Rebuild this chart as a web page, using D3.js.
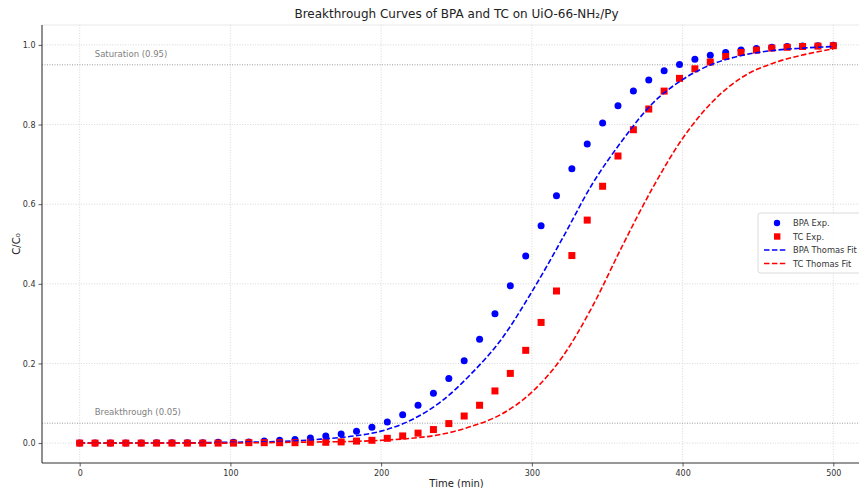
<!DOCTYPE html>
<html>
<head>
<meta charset="utf-8">
<script src="https://cdn.jsdelivr.net/npm/d3@7"></script>
<style>
  body { margin: 0; background: #fff; }
  svg { font-family: "DejaVu Sans", sans-serif; display: block; }
</style>
</head>
<body>
<div id="chart"></div>
<script>
// sampling times (min) of the experimental points
const timePoints = [0, 10.20, 20.41, 30.61, 40.82, 51.02, 61.22, 71.43, 81.63, 91.84,
  102.04, 112.24, 122.45, 132.65, 142.86, 153.06, 163.27, 173.47, 183.67, 193.88,
  204.08, 214.29, 224.49, 234.69, 244.90, 255.10, 265.31, 275.51, 285.71, 295.92,
  306.12, 316.33, 326.53, 336.73, 346.94, 357.14, 367.35, 377.55, 387.76, 397.96,
  408.16, 418.37, 428.57, 438.78, 448.98, 459.18, 469.39, 479.59, 489.80, 500];

const bpaExp = [0, 0, 0, 0, 0, 0.001, 0.001, 0.001, 0.001, 0.002,
  0.002, 0.003, 0.005, 0.007, 0.009, 0.013, 0.018, 0.023, 0.030, 0.040,
  0.053, 0.071, 0.095, 0.125, 0.162, 0.207, 0.261, 0.325, 0.395, 0.470,
  0.546, 0.621, 0.689, 0.751, 0.804, 0.847, 0.884, 0.912, 0.935, 0.951,
  0.964, 0.974, 0.981, 0.987, 0.991, 0.994, 0.996, 0.997, 0.998, 0.999];

const tcExp = [0, 0, 0, 0, 0, 0, 0, 0, 0, 0,
  0, 0.001, 0.001, 0.001, 0.001, 0.002, 0.002, 0.003, 0.005, 0.007,
  0.012, 0.018, 0.025, 0.034, 0.049, 0.068, 0.095, 0.131, 0.175, 0.233,
  0.303, 0.382, 0.471, 0.560, 0.645, 0.721, 0.787, 0.839, 0.884, 0.916,
  0.940, 0.957, 0.971, 0.981, 0.987, 0.992, 0.994, 0.996, 0.997, 0.998];

// Thomas model fits
const fitTimes = [0, 50, 100, 120, 140, 160, 180, 200, 220, 240, 260, 280, 300,
  320, 340, 360, 380, 400, 420, 440, 460, 480, 500];
const bpaFit = [0, 0, 0.002, 0.003, 0.005, 0.010, 0.017, 0.030, 0.058, 0.105, 0.175, 0.262, 0.380,
  0.512, 0.650, 0.760, 0.853, 0.913, 0.952, 0.974, 0.986, 0.992, 0.996];
const tcFit = [0, 0, 0, 0.001, 0.002, 0.003, 0.004, 0.007, 0.012, 0.022, 0.042, 0.073, 0.128,
  0.215, 0.342, 0.495, 0.640, 0.765, 0.858, 0.920, 0.954, 0.975, 0.990];

const xTicks = [0, 100, 200, 300, 400, 500];
const yTicks = [0, 0.2, 0.4, 0.6, 0.8, 1.0];
const refLines = [
  { value: 0.95, label: "Saturation (0.95)" },
  { value: 0.05, label: "Breakthrough (0.05)" }
];
const legendItems = [
  { label: "BPA Exp.", type: "circle", color: "blue" },
  { label: "TC Exp.", type: "square", color: "red" },
  { label: "BPA Thomas Fit", type: "line", color: "blue" },
  { label: "TC Thomas Fit", type: "line", color: "red" }
];

const W = 859, H = 488;
const margin = { top: 25, left: 42 };
const plotW = 829, plotH = 438;

const svg = d3.select("#chart").append("svg")
  .attr("width", W)
  .attr("height", H);

const g = svg.append("g")
  .attr("transform", "translate(" + margin.left + "," + margin.top + ")");

const x = d3.scaleLinear().domain([-25, 525]).range([0, plotW]);
const y = d3.scaleLinear().domain([-0.05, 1.05]).range([plotH, 0]);

// grid
g.append("g").selectAll("line").data(xTicks).join("line")
  .attr("x1", d => x(d)).attr("x2", d => x(d))
  .attr("y1", 0).attr("y2", plotH)
  .attr("stroke", "#cfcfcf").attr("stroke-width", 0.8)
  .attr("stroke-dasharray", "1,1.6");
g.append("g").selectAll("line").data(yTicks).join("line")
  .attr("x1", 0).attr("x2", plotW)
  .attr("y1", d => y(d)).attr("y2", d => y(d))
  .attr("stroke", "#cfcfcf").attr("stroke-width", 0.8)
  .attr("stroke-dasharray", "1,1.6");

// top edge
g.append("line")
  .attr("x1", 0).attr("x2", plotW).attr("y1", 0).attr("y2", 0)
  .attr("stroke", "#e2e2e2").attr("stroke-width", 0.8);

// saturation / breakthrough lines
g.append("g").selectAll("line").data(refLines).join("line")
  .attr("x1", 0).attr("x2", plotW)
  .attr("y1", d => y(d.value)).attr("y2", d => y(d.value))
  .attr("stroke", "#999").attr("stroke-width", 1)
  .attr("stroke-dasharray", "1,1.5");
g.append("g").selectAll("text").data(refLines).join("text")
  .attr("x", x(10))
  .attr("y", d => y(d.value + 0.02))
  .attr("font-size", 8.5)
  .attr("fill", "#808080")
  .text(d => d.label);

// experimental points
g.append("g").selectAll("circle").data(timePoints).join("circle")
  .attr("cx", d => x(d))
  .attr("cy", (d, i) => y(bpaExp[i]))
  .attr("r", 3.5)
  .attr("fill", "blue");

const sq = 7;
g.append("g").selectAll("rect").data(timePoints).join("rect")
  .attr("x", d => x(d) - sq / 2)
  .attr("y", (d, i) => y(tcExp[i]) - sq / 2)
  .attr("width", sq).attr("height", sq)
  .attr("fill", "red");

// fits
const fitLine = vals => d3.line()
  .x(d => x(d))
  .y((d, i) => y(vals[i]))
  .curve(d3.curveMonotoneX);

g.append("path").datum(fitTimes)
  .attr("d", fitLine(bpaFit))
  .attr("fill", "none").attr("stroke", "blue")
  .attr("stroke-width", 1.6).attr("stroke-dasharray", "5.5,2.4");
g.append("path").datum(fitTimes)
  .attr("d", fitLine(tcFit))
  .attr("fill", "none").attr("stroke", "red")
  .attr("stroke-width", 1.6).attr("stroke-dasharray", "5.5,2.4");

// axes
const xAxis = g.append("g")
  .attr("transform", "translate(0," + plotH + ")")
  .call(d3.axisBottom(x).tickValues(xTicks).tickSize(3.5).tickPadding(4).tickFormat(d3.format("d")));
const yAxis = g.append("g")
  .call(d3.axisLeft(y).tickValues(yTicks).tickSize(3.5).tickPadding(3).tickFormat(d3.format(".1f")));

[xAxis, yAxis].forEach(a => {
  a.select(".domain").attr("stroke", "#333").attr("stroke-width", 1.1);
  a.selectAll(".tick line").attr("stroke", "#333").attr("stroke-width", 0.8);
  a.selectAll(".tick text").attr("font-size", 8).attr("fill", "#333")
    .attr("font-family", "DejaVu Sans, sans-serif");
});
xAxis.select(".domain").attr("d", "M0,0H" + plotW);
yAxis.select(".domain").attr("d", "M0,0V" + plotH);

// labels
svg.append("text")
  .attr("x", margin.left + plotW / 2).attr("y", 18)
  .attr("text-anchor", "middle")
  .attr("font-size", 12).attr("fill", "#222")
  .text("Breakthrough Curves of BPA and TC on UiO-66-NH₂/Py");

svg.append("text")
  .attr("x", margin.left + plotW / 2).attr("y", 487)
  .attr("text-anchor", "middle")
  .attr("font-size", 10).attr("fill", "#222")
  .text("Time (min)");

svg.append("text")
  .attr("transform", "translate(20," + (margin.top + plotH / 2) + ") rotate(-90)")
  .attr("text-anchor", "middle")
  .attr("font-size", 10).attr("fill", "#222")
  .text("C/C₀");

// legend
const lg = svg.append("g").attr("transform", "translate(758,213)");
lg.append("rect")
  .attr("width", 106).attr("height", 60)
  .attr("rx", 2.5)
  .attr("fill", "#fff").attr("fill-opacity", 0.85)
  .attr("stroke", "#d0d0d0").attr("stroke-width", 0.8);

const rows = lg.selectAll("g.row").data(legendItems).join("g")
  .attr("class", "row")
  .attr("transform", (d, i) => "translate(0," + (10 + i * 13.5) + ")");

rows.filter(d => d.type === "circle").append("circle")
  .attr("cx", 19).attr("cy", 0).attr("r", 3.2).attr("fill", d => d.color);
rows.filter(d => d.type === "square").append("rect")
  .attr("x", 16).attr("y", -3.2).attr("width", 6.4).attr("height", 6.4).attr("fill", d => d.color);
rows.filter(d => d.type === "line").append("line")
  .attr("x1", 6).attr("x2", 28).attr("y1", 0).attr("y2", 0)
  .attr("stroke", d => d.color).attr("stroke-width", 1.6)
  .attr("stroke-dasharray", "5.5,2.4");
rows.append("text")
  .attr("x", 35).attr("y", 3)
  .attr("font-size", 8.3).attr("fill", "#333")
  .text(d => d.label);
</script>
</body>
</html>
